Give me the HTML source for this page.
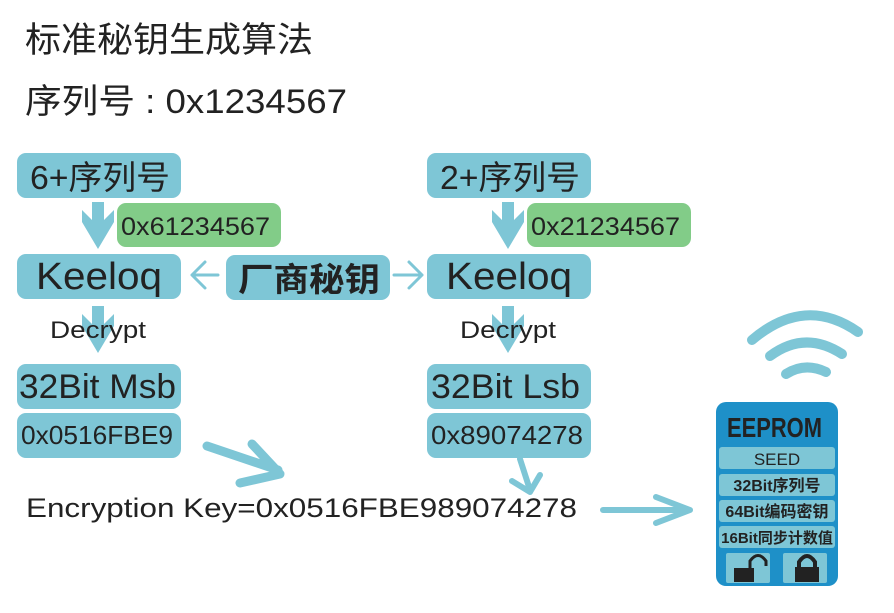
<!DOCTYPE html>
<html><head><meta charset="utf-8"><style>
body{margin:0;background:#fff;width:894px;height:608px;overflow:hidden}
svg text{font-family:"Liberation Sans","Noto Sans CJK SC",sans-serif;fill:#222}
</style></head><body>
<svg width="894" height="608" xmlns="http://www.w3.org/2000/svg">
<text x="25" y="52" font-size="35" textLength="288" lengthAdjust="spacingAndGlyphs">标准秘钥生成算法</text>
<text x="25" y="113" font-size="34" textLength="322" lengthAdjust="spacingAndGlyphs">序列号 : 0x1234567</text>
<g fill="#7ec6d6">
<rect x="17" y="153" width="164" height="45" rx="9"/>
<rect x="17" y="254" width="164" height="45" rx="9"/>
<rect x="17" y="364" width="164" height="45" rx="9"/>
<rect x="17" y="413" width="164" height="45" rx="9"/>
<rect x="427" y="153" width="164" height="45" rx="9"/>
<rect x="427" y="254" width="164" height="45" rx="9"/>
<rect x="427" y="364" width="164" height="45" rx="9"/>
<rect x="427" y="413" width="164" height="45" rx="9"/>
<rect x="226" y="255" width="164" height="45" rx="9"/>
</g>
<rect x="117" y="203" width="164" height="44" rx="9" fill="#82cc88"/>
<rect x="527" y="203" width="164" height="44" rx="9" fill="#82cc88"/>
<g fill="#7ec6d6">
<polygon points="92,202 104,202 104,220 114,210 114,222 98,249 82,222 82,210 92,220"/>
<polygon points="502,202 514,202 514,220 524,210 524,222 508,249 492,222 492,210 502,220"/>
<polygon points="92,306 104,306 104,324 114,314 114,326 98,353 82,326 82,314 92,324"/>
<polygon points="502,306 514,306 514,324 524,314 524,326 508,353 492,326 492,314 502,324"/>
</g>
<g stroke="#7ec6d6" fill="none" stroke-linecap="round" stroke-linejoin="round">
<path d="M218,275 H192 M205,262 L192,275 L205,288" stroke-width="3"/>
<path d="M394,275 H422 M409,262 L422,275 L409,288" stroke-width="3"/>
<path d="M207,446 L278,470 M252,444 L280,474 L240,483" stroke-width="9"/>
<path d="M520,459 L530,490 M512,481 L530,492 L540,475" stroke-width="6"/>
<path d="M603,510 H690 M656,497 L690,510 L656,523" stroke-width="6"/>
<path d="M752,340 Q805,295 858,332" stroke-width="10"/>
<path d="M770,356 Q805,330 842,354" stroke-width="10"/>
<path d="M786,374 Q805,362 826,372" stroke-width="10"/>
</g>
<text x="30" y="189" font-size="33" textLength="140" lengthAdjust="spacingAndGlyphs">6+序列号</text>
<text x="440" y="189" font-size="33" textLength="140" lengthAdjust="spacingAndGlyphs">2+序列号</text>
<text x="121" y="235" font-size="25" fill="#333" textLength="149" lengthAdjust="spacingAndGlyphs">0x61234567</text>
<text x="531" y="235" font-size="25" fill="#333" textLength="149" lengthAdjust="spacingAndGlyphs">0x21234567</text>
<text x="36" y="289" font-size="38" textLength="126" lengthAdjust="spacingAndGlyphs">Keeloq</text>
<text x="446" y="289" font-size="38" textLength="126" lengthAdjust="spacingAndGlyphs">Keeloq</text>
<text x="238" y="291" font-size="33" font-weight="bold" textLength="142" lengthAdjust="spacingAndGlyphs">厂商秘钥</text>
<text x="50" y="338" font-size="24" textLength="96" lengthAdjust="spacingAndGlyphs">Decrypt</text>
<text x="460" y="338" font-size="24" textLength="96" lengthAdjust="spacingAndGlyphs">Decrypt</text>
<text x="19" y="398" font-size="34" textLength="157" lengthAdjust="spacingAndGlyphs">32Bit Msb</text>
<text x="431" y="398" font-size="34" textLength="149" lengthAdjust="spacingAndGlyphs">32Bit Lsb</text>
<text x="21" y="444" font-size="26" textLength="152" lengthAdjust="spacingAndGlyphs">0x0516FBE9</text>
<text x="431" y="444" font-size="26" textLength="152" lengthAdjust="spacingAndGlyphs">0x89074278</text>
<text x="26" y="517" font-size="27" textLength="551" lengthAdjust="spacingAndGlyphs">Encryption Key=0x0516FBE989074278</text>
<rect x="716" y="402" width="122" height="184" rx="10" fill="#1e90c8"/>
<text x="727" y="437" font-size="28" font-weight="bold" font-family="Liberation Mono" textLength="95" lengthAdjust="spacingAndGlyphs">EEPROM</text>
<g fill="#7ec6d6">
<rect x="719" y="447" width="116" height="22" rx="3"/>
<rect x="719" y="474" width="116" height="22" rx="3"/>
<rect x="719" y="500" width="116" height="22" rx="3"/>
<rect x="719" y="526" width="116" height="22" rx="3"/>
<rect x="726" y="553" width="44" height="30" rx="2"/>
<rect x="783" y="553" width="44" height="30" rx="2"/>
</g>
<text x="777" y="465" font-size="17" text-anchor="middle">SEED</text>
<text x="777" y="491" font-size="16" text-anchor="middle" font-weight="bold">32Bit序列号</text>
<text x="777" y="517" font-size="16" text-anchor="middle" font-weight="bold">64Bit编码密钥</text>
<text x="777" y="543" font-size="15" text-anchor="middle" font-weight="bold">16Bit同步计数值</text>
<rect x="734" y="568" width="20" height="14" fill="#222"/>
<path d="M750,568 V561 Q758,550 766,561 V566" stroke="#222" stroke-width="3" fill="none"/>
<rect x="795" y="567" width="24" height="15" fill="#222"/>
<path d="M799,567 V562 Q807,550 815,562 V567" stroke="#222" stroke-width="4" fill="none"/>
</svg>
</body></html>
